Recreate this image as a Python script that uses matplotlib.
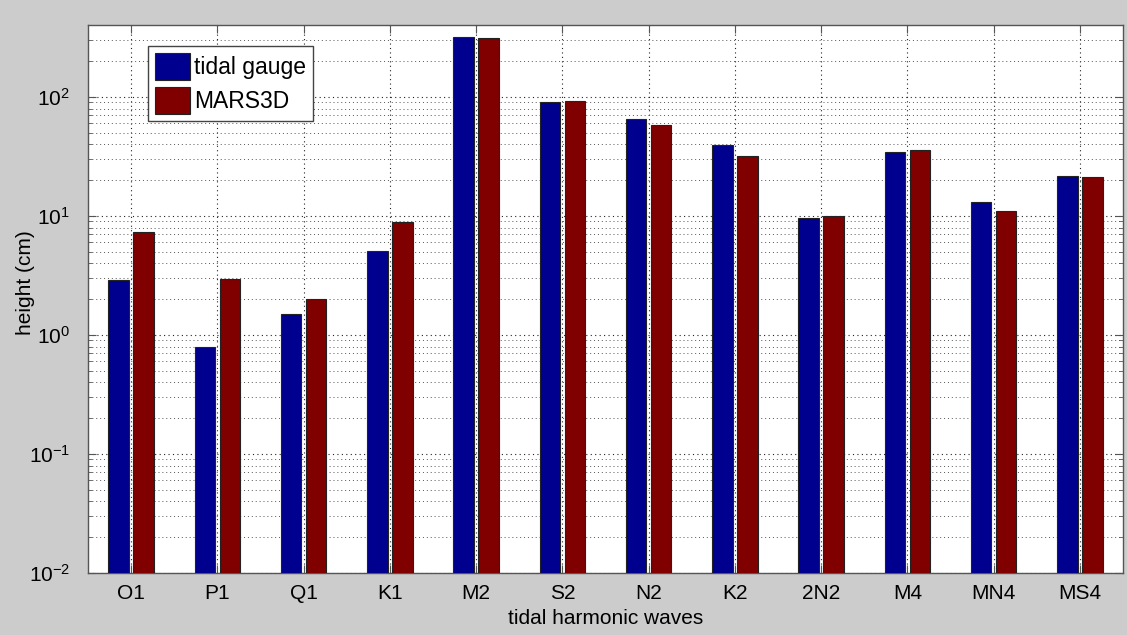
import numpy as np
import matplotlib
matplotlib.use('Agg')
import matplotlib.pyplot as plt
from matplotlib.ticker import LogLocator, NullFormatter

plt.rcParams['font.family'] = ['Liberation Sans', 'DejaVu Sans']
plt.rcParams['axes.unicode_minus'] = False

# tidal constituents and amplitudes (cm)
waves = ['O1', 'P1', 'Q1', 'K1', 'M2', 'S2', 'N2', 'K2', '2N2', 'M4', 'MN4', 'MS4']
tidal_gauge = [2.9, 0.79, 1.49, 5.1, 321, 90, 66, 39.3, 9.7, 34.7, 13.2, 21.8]
mars3d = [7.3, 2.95, 2.02, 8.9, 315, 92.5, 58, 31.8, 10.1, 35.9, 11.0, 21.2]

x = np.arange(1, len(waves) + 1)
w = 0.24
off = 0.145

fig = plt.figure(figsize=(11.27, 6.35), dpi=100, facecolor='#cccccc')
ax = fig.add_axes([88 / 1127, 1 - 573 / 635, 1035 / 1127, 548 / 635])
ax.set_facecolor('white')

ax.bar(x - off, tidal_gauge, width=w, color='#00008f', edgecolor='#222222',
       linewidth=0.8, label='tidal gauge', zorder=3)
ax.bar(x + off, mars3d, width=w, color='#800000', edgecolor='#222222',
       linewidth=0.8, label='MARS3D', zorder=3)

ax.set_yscale('log')
ax.set_ylim(1e-2, 403)
ax.set_xlim(0.5, 12.5)
ax.set_xticks(x)
ax.set_xticklabels(waves)
ax.yaxis.set_minor_locator(LogLocator(base=10, subs=np.arange(2, 10)))
ax.yaxis.set_minor_formatter(NullFormatter())

ax.tick_params(which='both', direction='in', top=True, right=True,
               labelsize=15, color='#555555')
ax.tick_params(which='major', length=6)
ax.tick_params(which='minor', length=3)
ax.tick_params(axis='x', pad=8)
ax.tick_params(axis='y', pad=13)

ax.grid(True, which='major', axis='both', linestyle=(0, (1, 3)), color='#222222', linewidth=0.8)
ax.grid(True, which='minor', axis='y', linestyle=(0, (1, 3)), color='#555555', linewidth=0.7)
ax.set_axisbelow(True)

for s in ax.spines.values():
    s.set_color('#555555')
    s.set_linewidth(1.0)

ax.set_xlabel('tidal harmonic waves', fontsize=15, labelpad=4)
ax.set_ylabel('height (cm)', fontsize=15)
ax.yaxis.set_label_coords(-0.051, 0.53)

leg = ax.legend(loc='upper left', bbox_to_anchor=(0.058, 0.962), fontsize=16.5,
                fancybox=False, framealpha=1, edgecolor='#444444',
                handlelength=1.55, handleheight=1.45, handletextpad=0.15,
                borderpad=0.3, labelspacing=0.3, borderaxespad=0)
leg.get_frame().set_linewidth(1.0)

plt.savefig('out.png', dpi=100, facecolor=fig.get_facecolor())
